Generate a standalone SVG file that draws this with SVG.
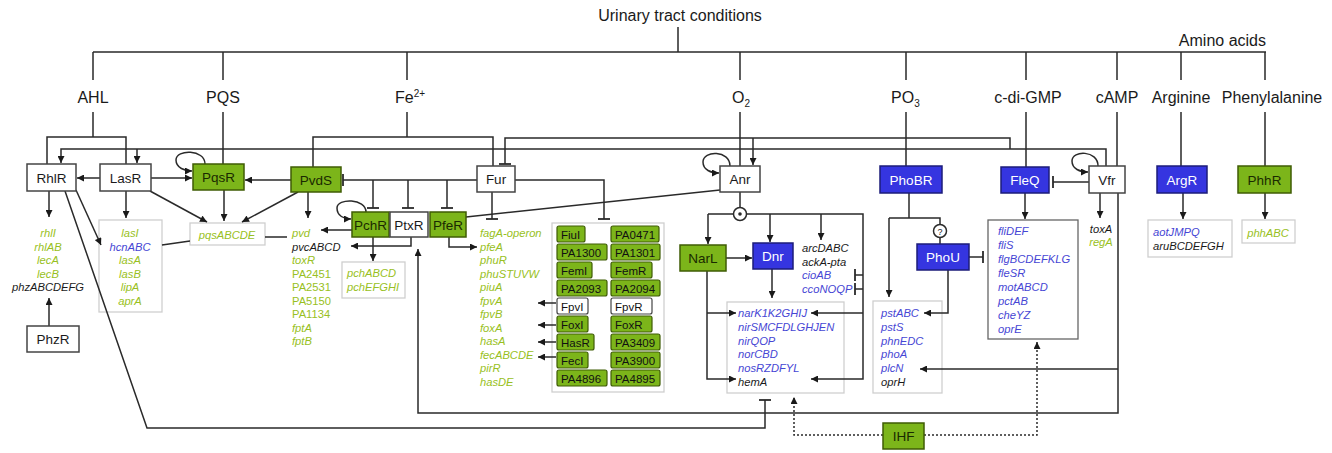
<svg xmlns="http://www.w3.org/2000/svg" width="1332" height="453" viewBox="0 0 1332 453">
<style>
text{font-family:"Liberation Sans",Arial,sans-serif}
.lbl{font-size:16px;fill:#1a1a1a;text-anchor:middle}
.ln{stroke:#2a2a2a;stroke-width:1.5;fill:none}
.dot{stroke:#2a2a2a;stroke-width:1.5;fill:none;stroke-dasharray:2 2}
.a{marker-end:url(#ah)}
.t{marker-end:url(#tee)}
.g rect{fill:#7cb51a;stroke:#3f5c05;stroke-width:1.5}
.b rect{fill:#3535e0;stroke:#1c1c7a;stroke-width:1.5}
.w rect{fill:#fff;stroke:#444;stroke-width:1.5}
.n text{font-size:13.5px;text-anchor:middle}
.g text{fill:#1a2a00}
.b text{fill:#fff}
.w text{fill:#1a1a1a}
.gb{fill:#fff;stroke:#cfcfcf;stroke-width:1.3}
.gd{fill:#fff;stroke:#666;stroke-width:1.3}
.gt{font-size:11.2px;font-style:italic}
.up{font-size:11.2px}
.cg{fill:#98bf22}
.cb{fill:#4646d4}
.ck{fill:#1a1a1a}
.ib rect{fill:#7cb51a;stroke:#3f5c05;stroke-width:1.2}
.ib rect.wh{fill:#fff;stroke:#444}
.ib text{font-size:11.5px;fill:#111}
</style>
<defs>
<marker id="ah" viewBox="0 0 10 10" refX="10" refY="5" markerWidth="8" markerHeight="7" orient="auto" markerUnits="userSpaceOnUse"><path d="M0,0 L10,5 L0,10 z" fill="#1a1a1a"/></marker>
<marker id="tee" viewBox="-2 -6 4 12" refX="0" refY="0" markerWidth="4" markerHeight="12" orient="auto" markerUnits="userSpaceOnUse"><path d="M0,-6 L0,6" stroke="#2a2a2a" stroke-width="1.8"/></marker>
</defs>
<rect width="1332" height="453" fill="#fff"/>

<g id="labels">
<text class="lbl" x="680" y="21">Urinary tract conditions</text>
<text class="lbl" x="1266" y="46" style="text-anchor:end">Amino acids</text>
<text class="lbl" x="93" y="103">AHL</text>
<text class="lbl" x="223" y="103">PQS</text>
<text class="lbl" x="395" y="103" style="text-anchor:start">Fe<tspan font-size="10" dy="-6">2+</tspan></text>
<text class="lbl" x="732" y="103" style="text-anchor:start">O<tspan font-size="10" dy="4">2</tspan></text>
<text class="lbl" x="891" y="103" style="text-anchor:start">PO<tspan font-size="10" dy="4">3</tspan></text>
<text class="lbl" x="1028" y="103">c-di-GMP</text>
<text class="lbl" x="1117" y="103">cAMP</text>
<text class="lbl" x="1181" y="103">Arginine</text>
<text class="lbl" x="1272" y="103">Phenylalanine</text>
</g>

<g id="gene-boxes">
<rect class="gb" x="99" y="220" width="63" height="92"/>
<rect class="gb" x="190" y="223" width="75" height="22"/>
<rect class="gb" x="342" y="262" width="63" height="36"/>
<rect class="gb" x="552" y="223" width="112" height="169"/>
<rect class="gb" x="727" y="302" width="117" height="91"/>
<rect class="gb" x="873" y="301" width="69" height="92"/>
<rect class="gd" x="988" y="220" width="90" height="119"/>
<rect class="gb" x="1148" y="220" width="84" height="37"/>
<rect class="gb" x="1242" y="220" width="53" height="23"/>
</g>

<g id="connectors">
<path class="ln" d="M678,27 V52 M93,52 H1266 M93,52 V80 M223,52 V80 M407,52 V80 M740,52 V80 M906,52 V80 M1026,52 V80 M1117,52 V80 M1181,52 V80 M1265,52 V80"/>
<path class="ln" d="M93,112 V137 M47,164 V137 H126 V164 M223,112 V164 M407,112 V137 M313,167 V137 H493 V166 M740,112 V166 M906,112 V166 M1026,112 V167 M1117,112 V166 M1181,112 V166 M1265,112 V166"/>
<path class="ln a" d="M1106,166 V149 H61 V163"/>
<path class="ln a" d="M137,149 V163"/>
<path class="ln t" d="M1010,149 V138 H505 V164"/>
<path class="ln a" d="M753,138 V165"/>
<path class="ln t" d="M477,180 H343"/>
<path class="ln t" d="M373,180 V208"/>
<path class="ln t" d="M408,180 V208"/>
<path class="ln t" d="M447,180 V208"/>
<path class="ln t" d="M515,180 H604 V219"/>
<path class="ln t" d="M492,192 V219"/>
<path class="ln" d="M720,190 L466,217"/>
<path class="ln a" d="M291,180 H245"/>
<path class="ln a" d="M298,192 L242,222"/>
<path class="ln a" d="M308,192 V218"/>
<path class="ln a" d="M100,178 H77"/>
<path class="ln a" d="M151,178 H192"/>
<path class="ln a" d="M150,191 L207,222"/>
<path class="ln a" d="M126,191 V218"/>
<path class="ln a" d="M224,190 V221"/>
<path class="ln a" d="M49,191 V217"/>
<path class="ln a" d="M49,326 V298"/>
<path class="ln a" d="M76,190 L101,245"/>
<path class="ln t" d="M65,191 L147,428 H765 V400"/>
<path class="ln" d="M162,245 L190,241 M265,237 L287,237"/>
<path class="ln a" d="M205,164 C205,149 176,149 176,160 C176,168 185,171 192,171"/>
<path class="ln a" d="M366,212 C366,198 337,198 337,208 C337,216 344,219 351,219"/>
<path class="ln a" d="M352,230 H321"/>
<path class="ln a" d="M373,237 V261"/>
<path class="ln a" d="M411,237 V246 H351"/>
<path class="ln a" d="M449,237 V247 H477"/>
<path class="ln a" d="M1118,193 V413 H418 V249"/>
<path class="ln a" d="M1118,369 H920"/>
<path class="ln a" d="M556,303 H538"/>
<path class="ln a" d="M556,325 H538"/>
<path class="ln a" d="M556,342 H538"/>
<path class="ln a" d="M556,357 H538"/>
<path class="ln a" d="M730,166 C730,150 703,150 703,162 C703,170 711,173 719,173"/>
<path class="ln" d="M740,192 V214"/>
<path class="ln a" d="M708,214 H863 V379 H811"/>
<path class="ln a" d="M708,214 V244"/>
<path class="ln a" d="M770,214 V242"/>
<path class="ln a" d="M821,214 V240"/>
<path class="ln a" d="M863,313 H811"/>
<path class="ln t" d="M863,275 H855"/>
<path class="ln t" d="M863,289 H855"/>
<path class="ln a" d="M726,258 H752"/>
<path class="ln a" d="M707,271 V379 H736"/>
<path class="ln a" d="M707,313 H736"/>
<path class="ln a" d="M772,269 V298"/>
<path class="dot a" d="M883,435 H794 V397"/>
<path class="dot a" d="M924,435 H1037 V342"/>
<path class="ln" d="M909,193 V218 M889,218 H940 V244"/>
<path class="ln a" d="M889,218 V297"/>
<path class="ln t" d="M969,257 H983"/>
<path class="ln a" d="M948,270 V313 H924"/>
<path class="ln a" d="M1025,193 V219"/>
<path class="ln t" d="M1089,182 H1053"/>
<path class="ln a" d="M1100,193 V218"/>
<path class="ln a" d="M1098,166 C1098,150 1072,150 1072,161 C1072,169 1080,172 1088,172"/>
<path class="ln a" d="M1183,193 V219"/>
<path class="ln a" d="M1265,193 V219"/>
<circle cx="740" cy="214" r="6.5" fill="#fff" stroke="#2a2a2a" stroke-width="1.5"/>
<circle cx="740" cy="214" r="1.8" fill="#2a2a2a"/>
<circle cx="940" cy="231" r="6.5" fill="#fff" stroke="#2a2a2a" stroke-width="1.5"/>
<text x="940" y="235" font-size="9" text-anchor="middle" fill="#1a1a1a">?</text>
</g>

<g id="RhlR" class="n w"><rect x="27" y="164" width="49" height="27"/><text x="51.5" y="182.5">RhlR</text></g>
<g id="LasR" class="n w"><rect x="100" y="164" width="51" height="27"/><text x="125.5" y="182.5">LasR</text></g>
<g id="PqsR" class="n g"><rect x="193" y="164" width="51" height="26"/><text x="218.5" y="182">PqsR</text></g>
<g id="PvdS" class="n g"><rect x="291" y="167" width="50" height="25"/><text x="316" y="184.5">PvdS</text></g>
<g id="Fur" class="n w"><rect x="477" y="166" width="38" height="26"/><text x="496" y="184">Fur</text></g>
<g id="PchR" class="n g"><rect x="352" y="212" width="37" height="25"/><text x="370.5" y="229.5">PchR</text></g>
<g id="PtxR" class="n w"><rect x="390" y="212" width="38" height="25"/><text x="409" y="229.5">PtxR</text></g>
<g id="PfeR" class="n g"><rect x="430" y="212" width="36" height="25"/><text x="448" y="229.5">PfeR</text></g>
<g id="Anr" class="n w"><rect x="720" y="166" width="40" height="26"/><text x="740" y="184">Anr</text></g>
<g id="NarL" class="n g"><rect x="680" y="245" width="46" height="26"/><text x="703" y="263">NarL</text></g>
<g id="Dnr" class="n b"><rect x="753" y="243" width="40" height="26"/><text x="773" y="261">Dnr</text></g>
<g id="PhoBR" class="n b"><rect x="880" y="166" width="62" height="27"/><text x="911" y="184.5">PhoBR</text></g>
<g id="PhoU" class="n b"><rect x="917" y="244" width="52" height="26"/><text x="943" y="262">PhoU</text></g>
<g id="FleQ" class="n b"><rect x="1001" y="167" width="48" height="26"/><text x="1025" y="185">FleQ</text></g>
<g id="Vfr" class="n w"><rect x="1089" y="166" width="36" height="27"/><text x="1107" y="184.5">Vfr</text></g>
<g id="ArgR" class="n b"><rect x="1157" y="166" width="50" height="27"/><text x="1182" y="184.5">ArgR</text></g>
<g id="PhhR" class="n g"><rect x="1238" y="166" width="53" height="27"/><text x="1264.5" y="184.5">PhhR</text></g>
<g id="PhzR" class="n w"><rect x="27" y="326" width="52" height="26"/><text x="53" y="344">PhzR</text></g>
<g id="IHF" class="n g"><rect x="883" y="423" width="41" height="26"/><text x="903.5" y="441">IHF</text></g>

<g id="iron-regulators" class="ib">
<rect x="557" y="226" width="28" height="16" rx="2"/><text x="561" y="238.5">FiuI</text>
<rect x="557" y="244" width="50" height="16" rx="2"/><text x="561" y="256.5">PA1300</text>
<rect x="557" y="262" width="35" height="16" rx="2"/><text x="561" y="274.5">FemI</text>
<rect x="557" y="280" width="50" height="16" rx="2"/><text x="561" y="292.5">PA2093</text>
<rect class="wh" x="557" y="298" width="31" height="16" rx="2"/><text x="561" y="310.5">FpvI</text>
<rect x="557" y="316" width="31" height="16" rx="2"/><text x="561" y="328.5">FoxI</text>
<rect x="557" y="334" width="37" height="16" rx="2"/><text x="561" y="346.5">HasR</text>
<rect x="557" y="352" width="31" height="16" rx="2"/><text x="561" y="364.5">FecI</text>
<rect x="557" y="370" width="50" height="16" rx="2"/><text x="561" y="382.5">PA4896</text>
<rect x="611" y="226" width="48" height="16" rx="2"/><text x="615" y="238.5">PA0471</text>
<rect x="611" y="244" width="49" height="16" rx="2"/><text x="615" y="256.5">PA1301</text>
<rect x="611" y="262" width="41" height="16" rx="2"/><text x="615" y="274.5">FemR</text>
<rect x="611" y="280" width="49" height="16" rx="2"/><text x="615" y="292.5">PA2094</text>
<rect class="wh" x="611" y="298" width="41" height="16" rx="2"/><text x="615" y="310.5">FpvR</text>
<rect x="611" y="316" width="41" height="16" rx="2"/><text x="615" y="328.5">FoxR</text>
<rect x="611" y="334" width="49" height="16" rx="2"/><text x="615" y="346.5">PA3409</text>
<rect x="611" y="352" width="49" height="16" rx="2"/><text x="615" y="364.5">PA3900</text>
<rect x="611" y="370" width="49" height="16" rx="2"/><text x="615" y="382.5">PA4895</text>
</g>

<g id="genes-RhlR" class="gt" text-anchor="middle">
<text x="48" y="237" class="cg">rhlI</text>
<text x="48" y="250.5" class="cg">rhlAB</text>
<text x="48" y="264" class="cg">lecA</text>
<text x="48" y="277.5" class="cg">lecB</text>
<text x="48" y="291" class="ck">phzABCDEFG</text>
</g>
<g id="genes-LasR" class="gt" text-anchor="middle">
<text x="130" y="237" class="cg">lasI</text>
<text x="130" y="250.5" class="cb">hcnABC</text>
<text x="130" y="264" class="cg">lasA</text>
<text x="130" y="277.5" class="cg">lasB</text>
<text x="130" y="291" class="cg">lipA</text>
<text x="130" y="304.5" class="cg">aprA</text>
</g>
<g id="genes-PqsR" class="gt"><text x="227" y="238.5" text-anchor="middle" class="cg">pqsABCDE</text></g>
<g id="genes-PvdS">
<text x="292" y="237" class="gt cg">pvd</text>
<text x="292" y="250.5" class="gt ck">pvcABCD</text>
<text x="292" y="264" class="gt cg">toxR</text>
<text x="292" y="277.5" class="up cg">PA2451</text>
<text x="292" y="291" class="up cg">PA2531</text>
<text x="292" y="304.5" class="up cg">PA5150</text>
<text x="292" y="318" class="up cg">PA1134</text>
<text x="292" y="331.5" class="gt cg">fptA</text>
<text x="292" y="345" class="gt cg">fptB</text>
</g>
<g id="genes-PchR" class="gt">
<text x="347" y="277" class="cg">pchABCD</text>
<text x="347" y="290.5" class="cg">pchEFGHI</text>
</g>
<g id="genes-iron" class="gt">
<text x="480" y="237" class="cg">fagA-operon</text>
<text x="480" y="250.5" class="cg">pfeA</text>
<text x="480" y="264" class="cg">phuR</text>
<text x="480" y="277.5" class="cg">phuSTUVW</text>
<text x="480" y="291" class="cg">piuA</text>
<text x="480" y="304.5" class="cg">fpvA</text>
<text x="480" y="318" class="cg">fpvB</text>
<text x="480" y="331.5" class="cg">foxA</text>
<text x="480" y="345" class="cg">hasA</text>
<text x="480" y="358.5" class="cg">fecABCDE</text>
<text x="480" y="372" class="cg">pirR</text>
<text x="480" y="385.5" class="cg">hasDE</text>
</g>
<g id="genes-Anr" class="gt">
<text x="802" y="252" class="ck">arcDABC</text>
<text x="802" y="266" class="ck">ackA-pta</text>
<text x="802" y="279" class="cb">cioAB</text>
<text x="802" y="293" class="cb">ccoNOQP</text>
</g>
<g id="genes-nar" class="gt">
<text x="738" y="317" class="cb">narK1K2GHIJ</text>
<text x="738" y="330.8" class="cb">nirSMCFDLGHJEN</text>
<text x="738" y="344.6" class="cb">nirQOP</text>
<text x="738" y="358.4" class="cb">norCBD</text>
<text x="738" y="372.2" class="cb">nosRZDFYL</text>
<text x="738" y="386" class="ck">hemA</text>
</g>
<g id="genes-pho" class="gt">
<text x="881" y="317" class="cb">pstABC</text>
<text x="881" y="330.8" class="cb">pstS</text>
<text x="881" y="344.6" class="cb">phnEDC</text>
<text x="881" y="358.4" class="cb">phoA</text>
<text x="881" y="372.2" class="cb">plcN</text>
<text x="881" y="386" class="ck">oprH</text>
</g>
<g id="genes-FleQ" class="gt">
<text x="998" y="235" class="cb">fliDEF</text>
<text x="998" y="249" class="cb">fliS</text>
<text x="998" y="263" class="cb">flgBCDEFKLG</text>
<text x="998" y="277" class="cb">fleSR</text>
<text x="998" y="291" class="cb">motABCD</text>
<text x="998" y="305" class="cb">pctAB</text>
<text x="998" y="319" class="cb">cheYZ</text>
<text x="998" y="333" class="cb">oprE</text>
</g>
<g id="genes-Vfr" class="gt" text-anchor="middle">
<text x="1101" y="233" class="ck">toxA</text>
<text x="1101" y="246" class="cg">regA</text>
</g>
<g id="genes-ArgR" class="gt">
<text x="1153" y="236" class="cb">aotJMPQ</text>
<text x="1153" y="250" class="ck">aruBCDEFGH</text>
</g>
<g id="genes-PhhR" class="gt"><text x="1268" y="236.5" text-anchor="middle" class="cg">phhABC</text></g>
</svg>
